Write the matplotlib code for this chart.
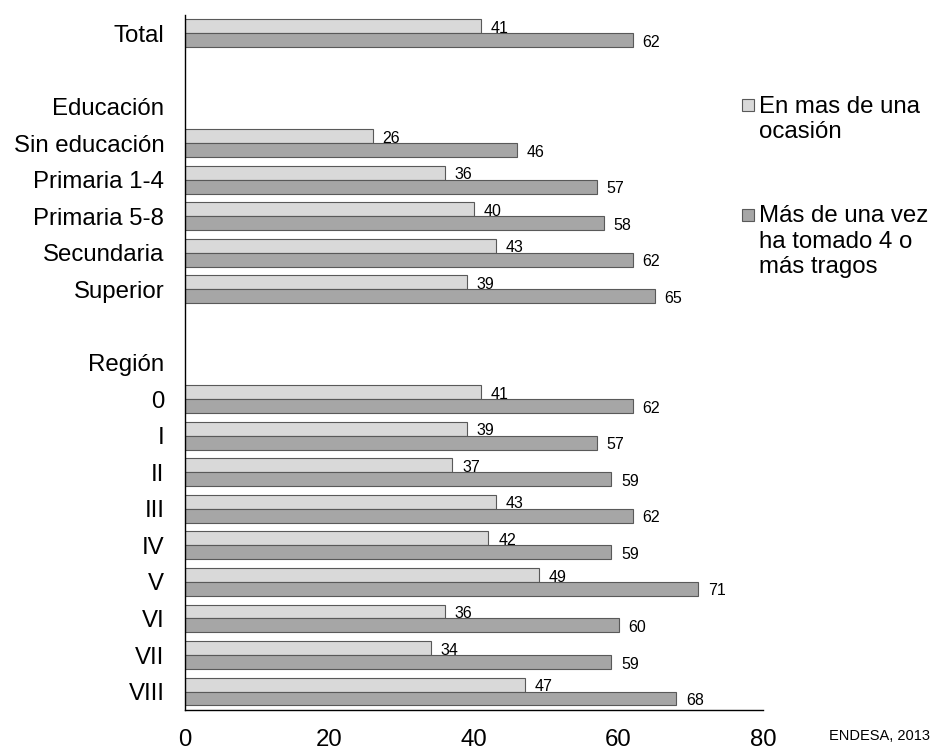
import matplotlib
matplotlib.use("Agg")
import matplotlib.pyplot as plt
import numpy as np
from matplotlib.patches import Rectangle

plt.rcParams['font.family'] = ['Liberation Sans', 'DejaVu Sans']

# rows, top to bottom; None = no bars (header or spacer)
labels = ["Total", "", "Educación", "Sin educación", "Primaria 1-4", "Primaria 5-8",
          "Secundaria", "Superior", "", "Región", "0", "I", "II", "III", "IV", "V",
          "VI", "VII", "VIII"]
ocasion = [41, None, None, 26, 36, 40, 43, 39, None, None, 41, 39, 37, 43, 42, 49, 36, 34, 47]
cuatro = [62, None, None, 46, 57, 58, 62, 65, None, None, 62, 57, 59, 62, 59, 71, 60, 59, 68]
series_names = ["En mas de una\nocasión", "Más de una vez\nha tomado 4 o\nmás tragos"]
light = "#d9d9d9"
dark = "#a6a6a6"
edge = "#595959"

fig = plt.figure(figsize=(9.35, 7.52), dpi=100)
ax = fig.add_axes([0.198, 0.056, 0.618, 0.924])

h = 0.38
for i, (a, b) in enumerate(zip(ocasion, cuatro)):
    if a is None:
        continue
    ax.barh(i - h / 2, a, height=h, color=light, edgecolor=edge, linewidth=0.8)
    ax.barh(i + h / 2, b, height=h, color=dark, edgecolor=edge, linewidth=0.8)
    ax.annotate(str(a), (a, i - h / 2), xytext=(7, -1.5), textcoords="offset points",
                va="center", ha="left", fontsize=11.5)
    ax.annotate(str(b), (b, i + h / 2), xytext=(7, -1.5), textcoords="offset points",
                va="center", ha="left", fontsize=11.5)

ax.set_xlim(0, 80)
ax.set_ylim(len(labels) - 0.5, -0.5)
ax.set_yticks(np.arange(len(labels)))
ax.set_yticklabels(labels, fontsize=17.3)
ax.set_xticks([0, 20, 40, 60, 80])
ax.tick_params(axis="y", length=0, pad=15)
ax.tick_params(axis="x", length=0, pad=14, labelsize=17.3)
ax.spines["top"].set_visible(False)
ax.spines["right"].set_visible(False)
ax.spines["left"].set_linewidth(1.0)
ax.spines["bottom"].set_linewidth(1.0)

# legend drawn by hand to match the wrapped layout
leg_y = [0.860, 0.714]
for name, col, y in zip(series_names, [light, dark], leg_y):
    fig.patches.append(Rectangle((0.794, y - 0.008), 0.012, 0.016, transform=fig.transFigure,
                                 facecolor=col, edgecolor=edge, linewidth=0.8))
    fig.text(0.812, y + 0.013, name, fontsize=17.3, va="top", ha="left", linespacing=1.2)

fig.text(0.995, 0.012, "ENDESA, 2013", fontsize=10.5, ha="right", va="bottom")

fig.savefig("out.png", dpi=100)
